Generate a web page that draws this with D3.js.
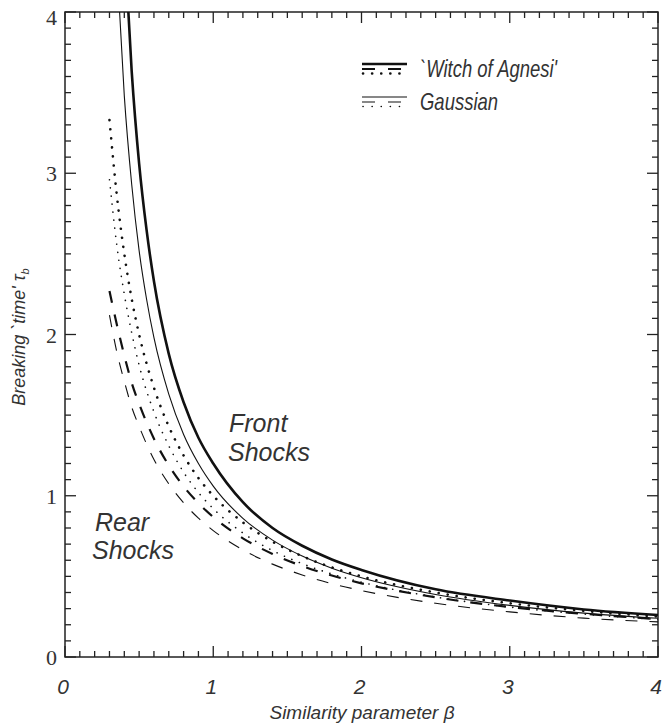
<!DOCTYPE html>
<html><head><meta charset="utf-8">
<script src="https://cdn.jsdelivr.net/npm/d3@7"></script>
<style>body{margin:0;background:#fff}svg{display:block}</style>
</head><body><svg id="c" width="667" height="723"></svg>
<script>
// ---- data ----
const xTicks = [0, 1, 2, 3, 4];
const yTicks = [0, 1, 2, 3, 4];
const xTickLabels = ["0", "1", "2", "3", "4"];
const yTickLabels = ["0", "1", "2", "3", "4"];

const betaWFront = [0.40, 0.45, 0.5, 0.55, 0.6, 0.7, 0.8, 0.9, 1.0, 1.2, 1.4, 1.6, 1.8, 2.0, 2.5, 3.0, 3.5, 4.0];
const witchFront = [4.45, 3.63, 3.06, 2.65, 2.33, 1.88, 1.58, 1.36, 1.20, 0.96, 0.80, 0.69, 0.605, 0.54, 0.42, 0.35, 0.295, 0.26];

const betaGFront = [0.35, 0.4, 0.45, 0.5, 0.55, 0.6, 0.7, 0.8, 0.9, 1.0, 1.2, 1.4, 1.6, 1.8, 2.0, 2.5, 3.0, 3.5, 4.0];
const gaussFront = [4.30, 3.48, 2.93, 2.52, 2.22, 1.98, 1.63, 1.38, 1.20, 1.06, 0.86, 0.725, 0.626, 0.551, 0.492, 0.388, 0.32, 0.272, 0.24];

const betaRear = [0.30, 0.35, 0.4, 0.45, 0.5, 0.6, 0.7, 0.8, 0.9, 1.0, 1.2, 1.4, 1.6, 1.8, 2.0, 2.5, 3.0, 3.5, 4.0];
const witchRearDot  = [3.33, 2.86, 2.50, 2.22, 2.00, 1.67, 1.43, 1.25, 1.11, 1.00, 0.835, 0.715, 0.625, 0.556, 0.50, 0.40, 0.333, 0.286, 0.25];
const gaussRearDot  = [2.96, 2.55, 2.25, 2.01, 1.81, 1.52, 1.31, 1.146, 1.02, 0.92, 0.769, 0.66, 0.579, 0.515, 0.464, 0.372, 0.31, 0.266, 0.233];
const witchRearDash = [2.27, 2.06, 1.87, 1.70, 1.57, 1.354, 1.188, 1.058, 0.954, 0.868, 0.736, 0.639, 0.564, 0.505, 0.457, 0.37, 0.31, 0.268, 0.235];
const gaussRearDash = [2.12, 1.89, 1.71, 1.55, 1.43, 1.225, 1.074, 0.956, 0.861, 0.784, 0.664, 0.576, 0.509, 0.455, 0.412, 0.333, 0.28, 0.241, 0.218];

const legendNames = ["`Witch of Agnesi'", "Gaussian"];

// ---- layout ----
const svg = d3.select("#c");
const L = 65, R = 658, T = 12, B = 657;
const x = d3.scaleLinear().domain([0, 4]).range([L, R]);
const y = d3.scaleLinear().domain([0, 4]).range([B, T]);
const ink = "#111", txt = "#333";
const sans = "Liberation Sans, Arial, sans-serif";

svg.append("defs").append("clipPath").attr("id", "clip")
  .append("rect").attr("x", L).attr("y", T).attr("width", R - L).attr("height", B - T);

// frame
svg.append("rect").attr("x", L).attr("y", T).attr("width", R - L).attr("height", B - T)
  .attr("fill", "none").attr("stroke", "#222").attr("stroke-width", 1.5);

// ticks (inward on all sides)
const minor = d3.range(0, 40.5, 1).map(d => d / 10);
function tickLen(v) { return Math.abs(v - Math.round(v)) < 1e-6 ? 11 : 6; }
const g = svg.append("g").attr("stroke", "#222").attr("stroke-width", 1.3);
minor.forEach(v => {
  const l = tickLen(v);
  g.append("line").attr("x1", x(v)).attr("x2", x(v)).attr("y1", B).attr("y2", B - l);
  g.append("line").attr("x1", x(v)).attr("x2", x(v)).attr("y1", T).attr("y2", T + l);
  g.append("line").attr("y1", y(v)).attr("y2", y(v)).attr("x1", L).attr("x2", L + l);
  g.append("line").attr("y1", y(v)).attr("y2", y(v)).attr("x1", R).attr("x2", R - l);
});

// tick labels
svg.append("g").selectAll("text").data(xTicks).join("text")
  .attr("x", d => x(d) - 2).attr("y", 694)
  .attr("text-anchor", "middle").attr("font-family", sans)
  .attr("font-style", "italic").attr("font-size", 21).attr("fill", txt)
  .text((d, i) => xTickLabels[i]);
svg.append("g").selectAll("text").data(yTicks).join("text")
  .attr("x", 57).attr("y", d => y(d) + 8 + (d === 4 ? 5 : 0))
  .attr("text-anchor", "end").attr("font-family", "Liberation Serif, Times New Roman, serif")
  .attr("font-size", 22).attr("fill", txt)
  .text((d, i) => yTickLabels[i]);

// axis titles
svg.append("text").attr("x", 362).attr("y", 719).attr("text-anchor", "middle")
  .attr("font-family", sans).attr("font-style", "italic")
  .attr("font-size", 19).attr("fill", txt).text("Similarity parameter β");
const yt = svg.append("text").attr("transform", "translate(25,337) rotate(-90)").attr("text-anchor", "middle")
  .attr("font-family", sans).attr("font-style", "italic")
  .attr("font-size", 18).attr("fill", txt);
yt.append("tspan").text("Breaking `time' τ");
yt.append("tspan").attr("font-size", 11).attr("dy", 4).text("b");

// curves
const line = d3.line().x(d => x(d[0])).y(d => y(d[1])).curve(d3.curveMonotoneX);
const series = [
  { b: betaWFront, v: witchFront, w: 2.6, dash: null },
  { b: betaGFront, v: gaussFront, w: 1.1, dash: null },
  { b: betaRear, v: witchRearDot, w: 2.6, dash: "0.1,9", cap: "round" },
  { b: betaRear, v: gaussRearDot, w: 1.6, dash: "0.1,8", cap: "round" },
  { b: betaRear, v: witchRearDash, w: 2.2, dash: "12,12" },
  { b: betaRear, v: gaussRearDash, w: 1.1, dash: "12,12" }
];
const cg = svg.append("g").attr("clip-path", "url(#clip)");
series.forEach(s => {
  cg.append("path").datum(s.b.map((bv, i) => [bv, s.v[i]]))
    .attr("d", line).attr("fill", "none").attr("stroke", ink)
    .attr("stroke-width", s.w).attr("stroke-dasharray", s.dash)
    .attr("stroke-linecap", s.cap || "butt");
});

// legend
const lg = svg.append("g");
[[0, 64, 2.6, 2.2, 2.6], [1, 97, 1.1, 1.1, 1.6]].forEach(([k, yy, ws, wd, wdot]) => {
  lg.append("line").attr("x1", 362).attr("x2", 407).attr("y1", yy).attr("y2", yy)
    .attr("stroke", ink).attr("stroke-width", ws);
  lg.append("line").attr("x1", 362).attr("x2", 407).attr("y1", yy + 5).attr("y2", yy + 5)
    .attr("stroke", ink).attr("stroke-width", wd).attr("stroke-dasharray", "13,13");
  lg.append("line").attr("x1", 363).attr("x2", 407).attr("y1", yy + 9.5).attr("y2", yy + 9.5)
    .attr("stroke", ink).attr("stroke-width", wdot).attr("stroke-dasharray", "0.1,9").attr("stroke-linecap", "round");
  lg.append("text").attr("transform", `translate(420,${yy + 13}) scale(0.77,1)`)
    .attr("font-family", sans).attr("font-style", "italic")
    .attr("font-size", 24).attr("fill", txt).text(legendNames[k]);
});

// annotations
const ann = [["Front", 229, 432], ["Shocks", 228, 461], ["Rear", 95, 531], ["Shocks", 92, 559]];
svg.append("g").selectAll("text").data(ann).join("text")
  .attr("x", d => d[1]).attr("y", d => d[2])
  .attr("font-family", sans).attr("font-style", "italic")
  .attr("font-size", 25).attr("fill", txt).text(d => d[0]);
</script></body></html>
